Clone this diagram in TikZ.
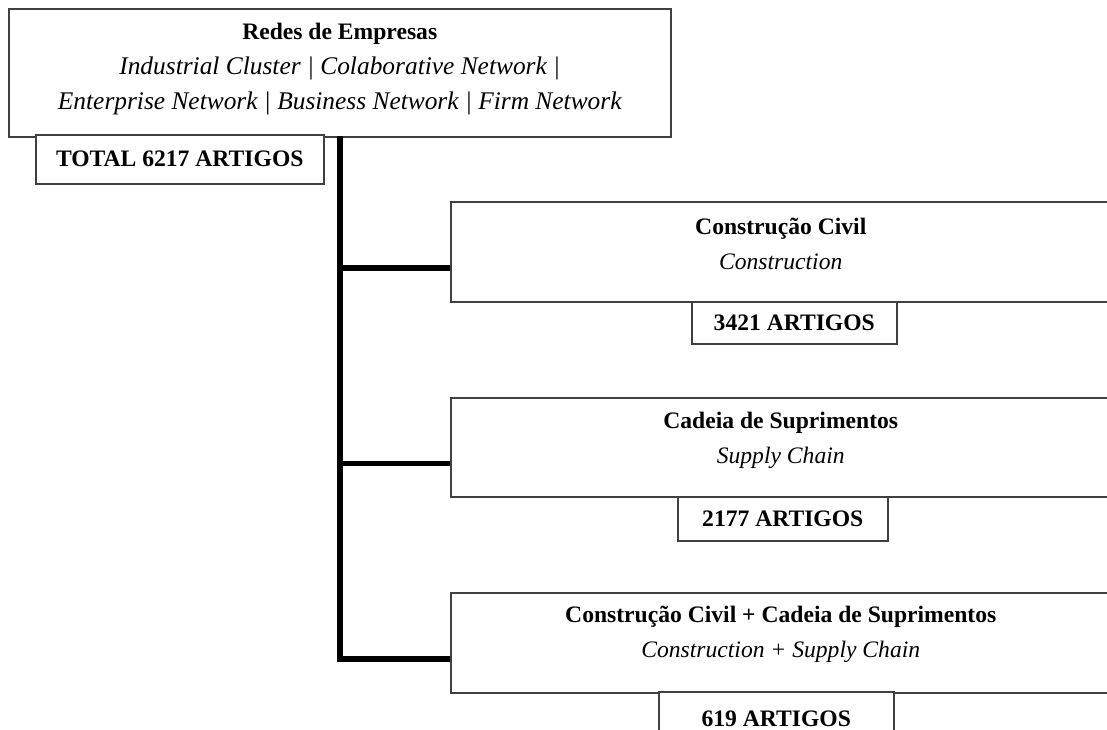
\documentclass[tikz,border=0pt]{standalone}
\usepackage{fontspec}
\setmainfont{Liberation Serif}
\begin{document}
\begin{tikzpicture}[x=0.5pt, y=-0.5pt,
    font=\fontsize{11.8pt}{17.5pt}\selectfont,
    frame/.style={draw=black!75, line width=0.75pt, fill=white, inner sep=0pt, anchor=north west},
    count/.style={frame, font=\fontsize{11.8pt}{17.5pt}\selectfont\bfseries},
    caption/.style={align=center, inner sep=0pt, anchor=north}]
    \useasboundingbox (0, 0) rectangle (1107, 729);

    % the whole search
    \node[frame, minimum width=331pt, minimum height=64pt] (redes) at (8, 8) {};
    \node[caption] (redestxt) at ([yshift=-7.5pt]redes.north)
    {\textbf{Redes de Empresas}\\
     {\fontsize{12.7pt}{17.5pt}\selectfont\itshape Industrial Cluster | Colaborative Network |}\\
     {\fontsize{12.7pt}{17.5pt}\selectfont\itshape Enterprise Network | Business Network | Firm Network}};
    \node[count, minimum width=144pt, minimum height=24.5pt] (total) at (35, 134) {TOTAL 6217 ARTIGOS};

    % the three filters
    \node[frame, minimum width=330pt, minimum height=50pt] (civil) at (450, 201) {};
    \node[caption] (civiltxt) at ([yshift=-8.5pt]civil.north)
    {\textbf{Construção Civil}\\ \textit{Construction}};
    \node[count, minimum width=102.5pt, minimum height=21pt] (ncivil) at (691, 301) {3421 ARTIGOS};

    \node[frame, minimum width=330pt, minimum height=49.5pt] (cadeia) at (450, 397) {};
    \node[caption] (cadeiatxt) at ([yshift=-7.5pt]cadeia.north)
    {\textbf{Cadeia de Suprimentos}\\ \textit{Supply Chain}};
    \node[count, minimum width=105pt, minimum height=22pt] (ncadeia) at (677, 496) {2177 ARTIGOS};

    \node[frame, minimum width=330pt, minimum height=50pt] (ambos) at (450, 592) {};
    \node[caption] (ambostxt) at ([yshift=-7pt]ambos.north)
    {\textbf{Construção Civil + Cadeia de Suprimentos}\\ \textit{Construction + Supply Chain}};
    \node[count, minimum width=117.5pt, minimum height=27pt] (nambos) at (658, 691) {619 ARTIGOS};

    % the tree
    \coordinate (top) at (340, 136);
    \coordinate (b1) at ([yshift=-8pt]civil.west);
    \coordinate (b2) at ([yshift=-8pt]cadeia.west);
    \coordinate (b3) at ([yshift=-8pt]ambos.west);
    \draw[line width=2.75pt] (top) |- (b3);
    \draw[line width=2.75pt] (top |- b1) -- (b1);
    \draw[line width=2.75pt] (top |- b2) -- (b2);
\end{tikzpicture}
\end{document}
